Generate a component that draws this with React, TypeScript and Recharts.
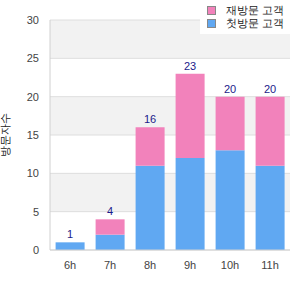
import { BarChart, Bar, XAxis, YAxis, CartesianGrid, LabelList, Label } from "recharts";

const hours = ["6h", "7h", "8h", "9h", "10h", "11h"];
const firstVisit = [1, 2, 11, 12, 13, 11];
const repeatVisit = [0, 2, 5, 11, 7, 9];
const yTicks = [0, 5, 10, 15, 20, 25, 30];

const BLUE = "#60a8f2";
const PINK = "#f282bb";

// total goes on top of whichever segment is the topmost non-empty one
const data = hours.map((h, i) => {
  const total = firstVisit[i] + repeatVisit[i];
  return {
    hour: h,
    first: firstVisit[i],
    repeat: repeatVisit[i],
    firstLabel: repeatVisit[i] === 0 ? total : "",
    repeatLabel: repeatVisit[i] === 0 ? "" : total,
  };
});

const legendItems = [
  { name: "재방문 고객", color: PINK },
  { name: "첫방문 고객", color: BLUE },
];

const ChartLegend = () => (
  <div
    style={{
      position: "absolute",
      top: 0,
      right: 8,
      background: "#fff",
      padding: "4px 8px 4px 7px",
      fontSize: 11,
      color: "#222",
      lineHeight: "13px",
      zIndex: 2,
    }}
  >
    {legendItems.map((it) => (
      <div key={it.name} style={{ display: "flex", alignItems: "center" }}>
        <span
          style={{
            display: "inline-block",
            width: 7,
            height: 7,
            background: it.color,
            border: "1px solid #888",
            marginRight: 10,
          }}
        />
        {it.name}
      </div>
    ))}
  </div>
);

const App = () => {
  return (
    <div
      style={{
        position: "absolute",
        left: 0,
        top: 0,
        width: 300,
        height: 300,
        fontFamily: "'Liberation Sans', Arial, sans-serif",
      }}
    >
      <BarChart
        width={300}
        height={300}
        data={data}
        margin={{ top: 20, right: 10, bottom: 20, left: 0 }}
        barCategoryGap="14%"
      >
        <CartesianGrid
          vertical={false}
          stroke="#dedede"
          horizontalFill={["#f2f2f2", "#ffffff"]}
          fillOpacity={1}
        />
        <XAxis
          dataKey="hour"
          axisLine={{ stroke: "#d0d0d0" }}
          tickLine={false}
          tick={{ fill: "#444", fontSize: 11 }}
          height={30}
          tickMargin={5}
        />
        <YAxis
          domain={[0, 30]}
          ticks={yTicks}
          axisLine={{ stroke: "#d0d0d0" }}
          tickLine={false}
          tick={{ fill: "#444", fontSize: 11 }}
          width={50}
          tickMargin={5}
        >
          <Label
            value="방문자수"
            angle={-90}
            position="insideLeft"
            offset={5}
            style={{ fill: "#222", fontSize: 11, textAnchor: "middle" }}
          />
        </YAxis>
        <Bar dataKey="first" stackId="a" fill={BLUE} isAnimationActive={false}>
          <LabelList dataKey="firstLabel" position="top" offset={4} fill="#1a1a8a" fontSize={11} />
        </Bar>
        <Bar dataKey="repeat" stackId="a" fill={PINK} isAnimationActive={false}>
          <LabelList dataKey="repeatLabel" position="top" offset={4} fill="#1a1a8a" fontSize={11} />
        </Bar>
      </BarChart>
      <ChartLegend />
    </div>
  );
};

export default App;
